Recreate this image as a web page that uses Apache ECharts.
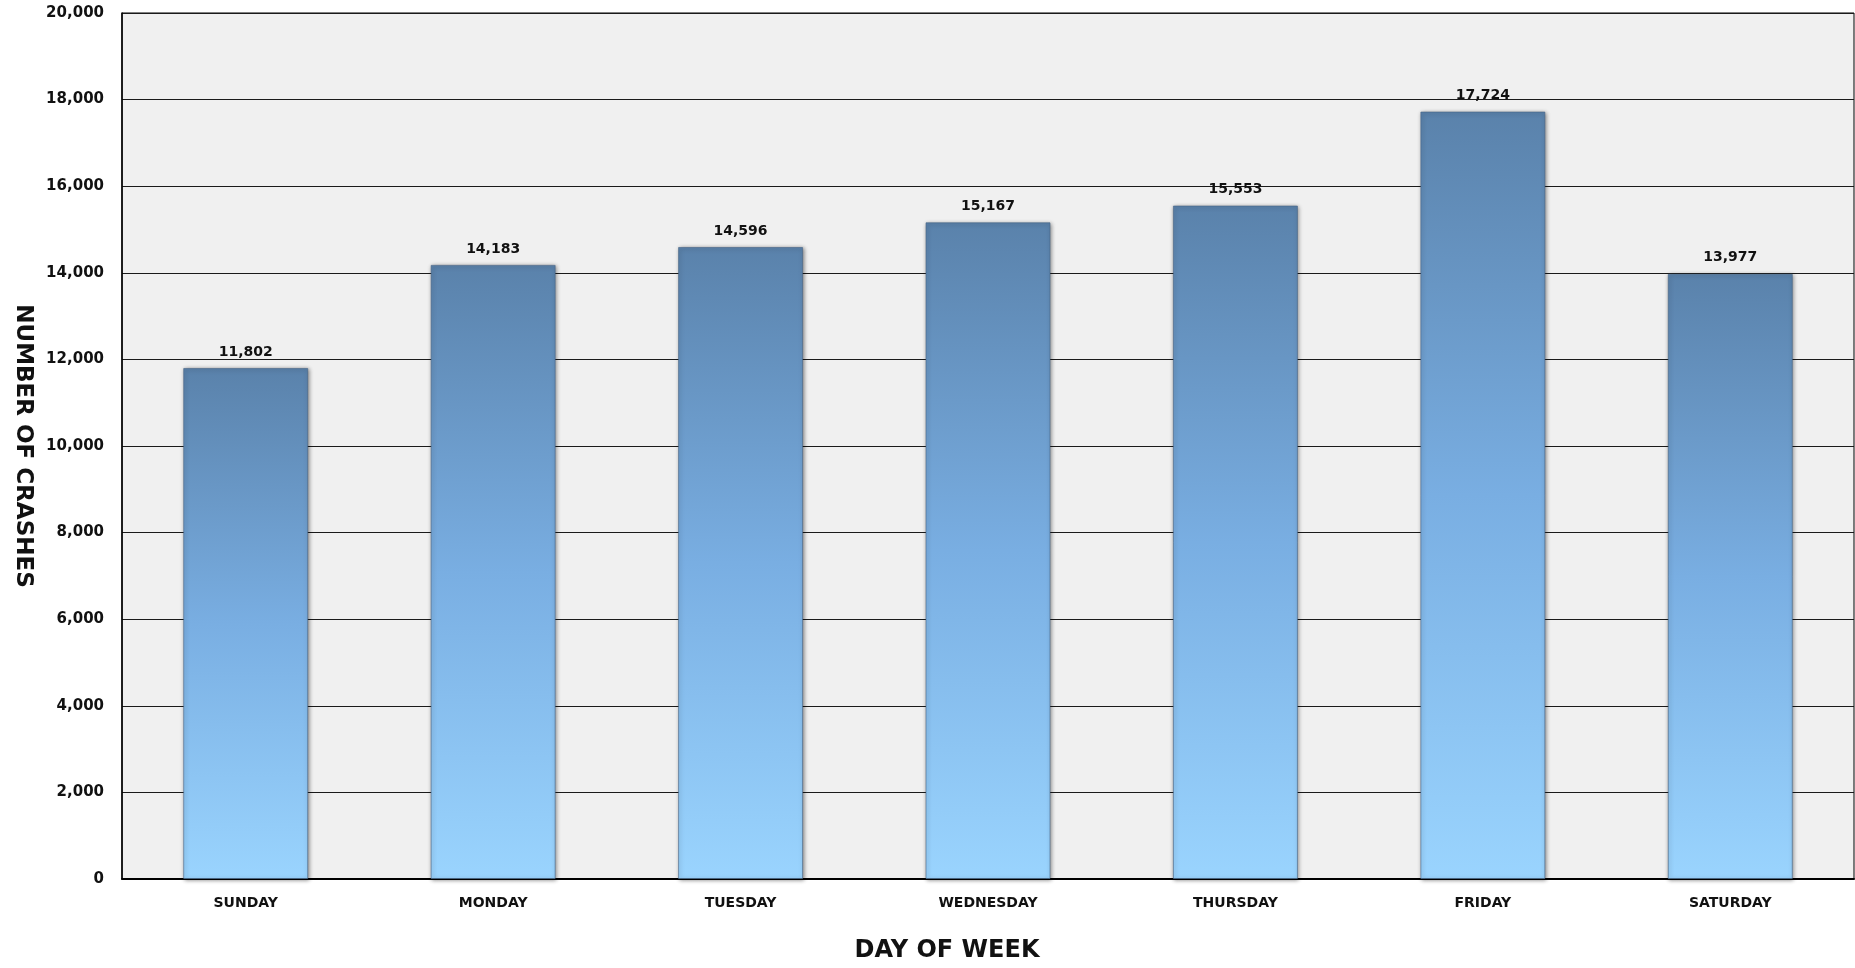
<!DOCTYPE html>
<html>
<head>
<meta charset="utf-8">
<style>
html,body{margin:0;padding:0;background:#fff;}
#chart{width:1855px;height:968px;}
</style>
<script src="https://cdn.jsdelivr.net/npm/echarts@6/dist/echarts.min.js"></script>
</head>
<body>
<div id="chart"></div>
<script>
const categories = ['SUNDAY','MONDAY','TUESDAY','WEDNESDAY','THURSDAY','FRIDAY','SATURDAY'];
const crashes = [11802, 14183, 14596, 15167, 15553, 17724, 13977];
const xTitle = 'DAY OF WEEK';
const yTitle = 'NUMBER OF CRASHES';

const fmt = v => Number(v).toLocaleString('en-US');
const FONT = '"DejaVu Sans", sans-serif';

const chart = echarts.init(document.getElementById('chart'), null, {renderer:'canvas'});
chart.setOption({
  animation: false,
  backgroundColor: '#ffffff',
  grid: {left:122, right:1, top:13, bottom:89, show:true, backgroundColor:'#f0f0f0', borderColor:'#000', borderWidth:1},
  xAxis: {
    type:'category', data: categories,
    axisLine:{show:true, lineStyle:{color:'#000', width:2}},
    axisTick:{show:false},
    axisLabel:{color:'#111', fontFamily:FONT, fontWeight:'bold', fontSize:14, margin:17},
    name:xTitle, nameLocation:'middle', nameGap:60,
    nameTextStyle:{color:'#111', fontFamily:FONT, fontWeight:'bold', fontSize:24, padding:[0,82,0,0]}
  },
  yAxis: {
    type:'value', min:0, max:20000, interval:2000,
    axisLine:{show:true, lineStyle:{color:'#000', width:1.5}},
    axisTick:{show:false},
    splitLine:{show:true, lineStyle:{color:'#1a1a1a', width:1}},
    axisLabel:{color:'#111', fontFamily:FONT, fontWeight:'bold', fontSize:15, margin:18, formatter: fmt},
    name:yTitle, nameLocation:'middle', nameGap:88, nameRotate:-90,
    nameTextStyle:{color:'#111', fontFamily:FONT, fontWeight:'bold', fontSize:23}
  },
  series: [{
    type:'bar', data: crashes, barWidth:125,
    itemStyle:{
      color: new echarts.graphic.LinearGradient(0,0,0,1,[
        {offset:0, color:'#5a82ab'},
        {offset:0.5, color:'#79aee2'},
        {offset:1, color:'#9ad4fe'}
      ]),
      borderColor:'rgba(70,100,135,0.6)', borderWidth:1,
      shadowColor:'rgba(0,0,0,0.45)', shadowBlur:4, shadowOffsetX:1, shadowOffsetY:1
    },
    label:{show:true, position:'top', distance:9, color:'#111', fontFamily:FONT, fontWeight:'bold', fontSize:14, formatter: p => fmt(p.value)}
  }]
});
</script>
</body>
</html>
